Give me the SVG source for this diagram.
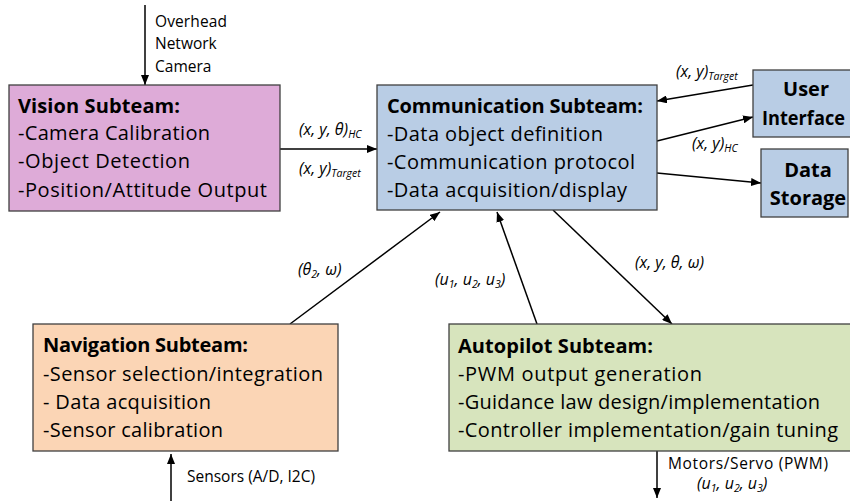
<svg xmlns="http://www.w3.org/2000/svg" width="850" height="501" viewBox="0 0 850 501">
  <defs>
    <marker id="arrow" viewBox="0 0 10 8" refX="10" refY="4" markerWidth="10" markerHeight="8" markerUnits="userSpaceOnUse" orient="auto">
      <path d="M0,0 L10,4 L0,8 Z" fill="#000"/>
    </marker>
    <style>
      .box { stroke: #404040; stroke-width: 1.3; }
      .vision { fill: #DEABD8; }
      .comm { fill: #B9CDE5; }
      .nav { fill: #FBD5B5; }
      .auto { fill: #D7E4BD; }
      .t { font-family: "Open Sans", "Liberation Sans", sans-serif; font-size: 20px; fill: #000; }
      .b { font-weight: bold; }
      .small { font-family: "Open Sans", "Liberation Sans", sans-serif; font-size: 15.5px; fill: #000; }
      .lbl { font-family: "Open Sans", "Liberation Sans", sans-serif; font-size: 16px; font-style: italic; fill: #000; }
      .sub { font-size: 10.5px; }
      .wire { stroke: #000; stroke-width: 1.5; fill: none; marker-end: url(#arrow); }
    </style>
  </defs>

  <!-- connectors -->
  <g id="connectors">
    <line class="wire" x1="145" y1="5" x2="145" y2="85"/>
    <line class="wire" x1="280" y1="149" x2="377" y2="149"/>
    <line class="wire" x1="753" y1="85" x2="657" y2="101"/>
    <line class="wire" x1="657" y1="141" x2="753" y2="117"/>
    <line class="wire" x1="657" y1="173" x2="761" y2="183"/>
    <line class="wire" x1="290" y1="324" x2="440" y2="212"/>
    <line class="wire" x1="537" y1="324" x2="497" y2="212"/>
    <line class="wire" x1="553" y1="210" x2="672" y2="324"/>
    <line class="wire" x1="171" y1="501" x2="171" y2="454"/>
    <line class="wire" x1="657" y1="451" x2="657" y2="498"/>
  </g>

  <!-- connector labels -->
  <g id="labels">
    <text class="small" x="155" y="27" textLength="72">Overhead</text>
    <text class="small" x="155" y="49">Network</text>
    <text class="small" x="155" y="72">Camera</text>

    <text class="lbl" x="299" y="135">(x, y, θ)<tspan class="sub" dy="3">HC</tspan></text>
    <text class="lbl" x="299" y="174">(x, y)<tspan class="sub" dy="3">Target</tspan></text>

    <text class="lbl" x="676" y="77">(x, y)<tspan class="sub" dy="3">Target</tspan></text>
    <text class="lbl" x="692" y="149">(x, y)<tspan class="sub" dy="3">HC</tspan></text>

    <text class="lbl" x="298" y="275">(θ<tspan class="sub" dy="3">2</tspan><tspan dy="-3">, ω)</tspan></text>
    <text class="lbl" x="435" y="285">(u<tspan class="sub" dy="3">1</tspan><tspan dy="-3">, u</tspan><tspan class="sub" dy="3">2</tspan><tspan dy="-3">, u</tspan><tspan class="sub" dy="3">3</tspan><tspan dy="-3">)</tspan></text>
    <text class="lbl" x="635" y="268">(x, y, θ, ω)</text>

    <text class="small" x="187" y="482">Sensors (A/D, I2C)</text>
    <text class="small" x="668" y="469" textLength="160">Motors/Servo (PWM)</text>
    <text class="lbl" x="697" y="489">(u<tspan class="sub" dy="3">1</tspan><tspan dy="-3">, u</tspan><tspan class="sub" dy="3">2</tspan><tspan dy="-3">, u</tspan><tspan class="sub" dy="3">3</tspan><tspan dy="-3">)</tspan></text>
  </g>

  <!-- Vision Subteam -->
  <g id="vision">
    <rect class="box vision" x="9" y="85" width="271" height="126"/>
    <text class="t b" x="18" y="113" textLength="162">Vision Subteam:</text>
    <text class="t" x="18" y="140" textLength="192">-Camera Calibration</text>
    <text class="t" x="18" y="168" textLength="172">-Object Detection</text>
    <text class="t" x="18" y="197" textLength="249">-Position/Attitude Output</text>
  </g>

  <!-- Communication Subteam -->
  <g id="communication">
    <rect class="box comm" x="377" y="85" width="280" height="125"/>
    <text class="t b" x="387" y="113" textLength="256">Communication Subteam:</text>
    <text class="t" x="387" y="141" textLength="216">-Data object definition</text>
    <text class="t" x="387" y="169" textLength="248">-Communication protocol</text>
    <text class="t" x="387" y="197" textLength="240">-Data acquisition/display</text>
  </g>

  <!-- User Interface -->
  <g id="user-interface">
    <rect class="box comm" x="753" y="70" width="104" height="67"/>
    <text class="t b" x="806" y="96" text-anchor="middle">User</text>
    <text class="t b" x="762" y="125" textLength="83" lengthAdjust="spacingAndGlyphs">Interface</text>
  </g>

  <!-- Data Storage -->
  <g id="data-storage">
    <rect class="box comm" x="761" y="149" width="87" height="68"/>
    <text class="t b" x="808" y="177" text-anchor="middle">Data</text>
    <text class="t b" x="808" y="205" text-anchor="middle">Storage</text>
  </g>

  <!-- Navigation Subteam -->
  <g id="navigation">
    <rect class="box nav" x="33" y="324" width="305" height="127"/>
    <text class="t b" x="43" y="352" textLength="205">Navigation Subteam:</text>
    <text class="t" x="43" y="381" textLength="280">-Sensor selection/integration</text>
    <text class="t" x="43" y="409" textLength="168">- Data acquisition</text>
    <text class="t" x="43" y="437" textLength="180">-Sensor calibration</text>
  </g>

  <!-- Autopilot Subteam -->
  <g id="autopilot">
    <rect class="box auto" x="449" y="324" width="410" height="127"/>
    <text class="t b" x="458" y="353" textLength="195">Autopilot Subteam:</text>
    <text class="t" x="458" y="381" textLength="244">-PWM output generation</text>
    <text class="t" x="458" y="409" textLength="362">-Guidance law design/implementation</text>
    <text class="t" x="458" y="437" textLength="380">-Controller implementation/gain tuning</text>
  </g>
</svg>
